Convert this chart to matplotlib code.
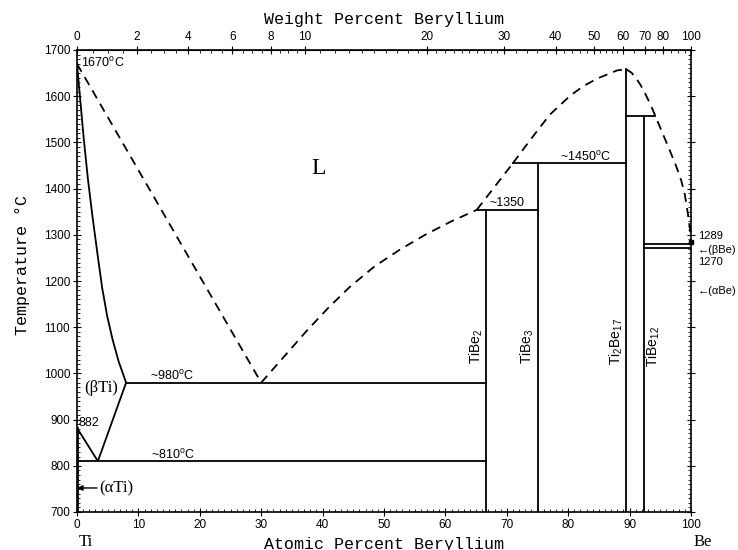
import numpy as np
import matplotlib
matplotlib.use('Agg')
import matplotlib.pyplot as plt

plt.rcParams['font.family'] = ['Liberation Sans', 'DejaVu Sans']
plt.rcParams['mathtext.fontset'] = 'custom'
plt.rcParams['mathtext.rm'] = 'Liberation Sans'
plt.rcParams['mathtext.it'] = 'Liberation Sans:italic'

# compositions in at.% Be, temperatures in deg C
liq_left_x = [0, 30]
liq_left_t = [1670, 980]
sol_ti_x = [0, 0.5, 1.1, 1.8, 2.5, 3.3, 4.1, 4.9, 5.8, 6.8, 8.0]
sol_ti_t = [1670, 1596, 1508, 1418, 1342, 1262, 1185, 1125, 1073, 1025, 980]
beta_x = [0, 3.4, 8.0]
beta_t = [882, 810, 980]
liq_mid_x = [30, 33.5, 37.4, 41, 44.5, 48.5, 52.6, 56.7, 60.8, 65.1]
liq_mid_t = [980, 1033, 1092, 1143, 1188, 1232, 1268, 1300, 1328, 1354]
liq_up_x = [65.1, 71.0]
liq_up_t = [1354, 1455]
liq_top_x = [71.0, 73.8, 77.0, 80.4, 82.5, 84.7, 88.0, 89.47]
liq_top_t = [1455, 1505, 1560, 1602, 1622, 1638, 1656, 1658]
liq_be_x = [89.47, 90.3, 91.0, 91.8, 92.6, 93.4, 94.2, 95.3, 96.5, 97.6, 98.4, 99.0, 99.5, 99.8, 100]
liq_be_t = [1658, 1651, 1640, 1624, 1604, 1582, 1557, 1522, 1484, 1448, 1418, 1387, 1345, 1315, 1289]

# invariant lines: (x_start, x_end, T)
horiz = [(0, 66.67, 810), (8.0, 66.67, 980), (65.1, 75.0, 1354),
         (71.0, 89.47, 1455), (89.47, 94.2, 1557),
         (92.31, 100, 1280), (92.31, 100, 1271)]
# compounds: (x, top T)
compounds = [(66.67, 1354), (75.0, 1455), (89.47, 1658), (92.31, 1557)]
comp_names = ['TiBe$_2$', 'TiBe$_3$', 'Ti$_2$Be$_{17}$', 'TiBe$_{12}$']
comp_label_x = [65.1, 73.4, 87.9, 93.9]
comp_label_t = [1058, 1058, 1068, 1058]

at_ticks = np.arange(0, 101, 10)
t_ticks = np.arange(700, 1701, 100)
wt_ticks = [0, 2, 4, 6, 8, 10, 20, 30, 40, 50, 60, 70, 80, 100]


def at2wt(x):
    x = np.asarray(x, dtype=float)
    a = x * 9.012
    b = (100 - x) * 47.867
    return 100 * a / (a + b)


def wt2at(w):
    w = np.asarray(w, dtype=float)
    a = w / 9.012
    b = (100 - w) / 47.867
    return 100 * a / (a + b)


fig = plt.figure(figsize=(7.38, 5.5), dpi=100)
ax = fig.add_axes([77/738, 1-512/550, 614/738, 462/550])
ax.set_xlim(0, 100)
ax.set_ylim(700, 1700)

lw = 1.3
dash = (0, (5, 3.5))
ax.plot(liq_left_x, liq_left_t, 'k', lw=lw, linestyle=dash)
ax.plot(liq_mid_x, liq_mid_t, 'k', lw=lw, linestyle=dash)
ax.plot(liq_up_x, liq_up_t, 'k', lw=lw, linestyle=dash)
ax.plot(liq_top_x, liq_top_t, 'k', lw=lw, linestyle=dash)
ax.plot(liq_be_x, liq_be_t, 'k', lw=lw, linestyle=dash)
ax.plot(sol_ti_x, sol_ti_t, 'k', lw=lw)
ax.plot(beta_x, beta_t, 'k', lw=lw)
for x0, x1, t in horiz:
    ax.plot([x0, x1], [t, t], 'k', lw=lw)
for x, t in compounds:
    ax.plot([x, x], [700, t], 'k', lw=lw)
ax.plot([0, 0], [700, 882], 'k', lw=2)
ax.plot([100], [1285], 'ks', ms=3, clip_on=False)

# labels
ax.text(39.3, 1444, 'L', fontsize=17, family='Liberation Serif', ha='center', va='center')
ax.text(0.6, 1672, r'1670$^{\rm o}$C', fontsize=9, ha='left', va='center')
ax.text(3.9, 969, '(βTi)', fontsize=12, family=['Liberation Serif', 'DejaVu Serif'], ha='center', va='center')
ax.text(0.3, 893, '882', fontsize=9, ha='left', va='center')
ax.text(15.4, 994, r'~980$^{\rm o}$C', fontsize=9, ha='center', va='center')
ax.text(15.6, 823, r'~810$^{\rm o}$C', fontsize=9, ha='center', va='center')
ax.annotate('(αTi)', xy=(0, 752), xytext=(3.7, 752), fontsize=12,
            family=['Liberation Serif', 'DejaVu Serif'], va='center', ha='left',
            arrowprops=dict(arrowstyle='-|>', color='k', lw=1, mutation_scale=8,
                            shrinkA=0, shrinkB=0))
ax.text(67.2, 1369, '~1350', fontsize=9, ha='left', va='center')
ax.text(82.8, 1468, r'~1450$^{\rm o}$C', fontsize=9, ha='center', va='center')
for name, x, t in zip(comp_names, comp_label_x, comp_label_t):
    ax.text(x, t, name, fontsize=10, rotation=90, ha='center', va='center')

ax.text(101.2, 1298, '1289', fontsize=8, ha='left', va='center', clip_on=False)
ax.text(101.1, 1267, '←(βBe)', fontsize=8, ha='left', va='center', clip_on=False)
ax.text(101.2, 1242, '1270', fontsize=8, ha='left', va='center', clip_on=False)
ax.text(101.1, 1179, '←(αBe)', fontsize=8, ha='left', va='center', clip_on=False)

mono = ['Liberation Mono', 'DejaVu Sans Mono']
ax.set_xlabel('Atomic Percent Beryllium', fontsize=12, family=mono, labelpad=4)
ax.set_ylabel('Temperature °C', fontsize=12, family=mono)
ax.yaxis.set_label_coords(-0.076, 0.535)
fig.text(86/738, 1-546/550, 'Ti', fontsize=12, family='Liberation Serif', ha='center', va='baseline')
fig.text(703/738, 1-546/550, 'Be', fontsize=12, family='Liberation Serif', ha='center', va='baseline')

ax.set_xticks(at_ticks)
ax.set_xticks(np.arange(0, 101, 1), minor=True)
ax.set_yticks(t_ticks)
ax.set_yticks(np.arange(700, 1701, 10), minor=True)
ax.tick_params(which='major', direction='inout', length=6, width=0.8, labelsize=8.5,
               pad=2, right=True)
ax.tick_params(which='minor', direction='in', length=2.5, width=0.6, right=True)

top = ax.secondary_xaxis('top', functions=(at2wt, wt2at))
top.set_xticks(wt_ticks)
wt_minor = list(np.arange(0, 10, 0.5)) + list(np.arange(10, 30, 1)) + \
    list(np.arange(30, 60, 2)) + list(np.arange(60, 100, 5))
top.set_xticks(wt_minor, minor=True)
top.tick_params(which='major', direction='inout', length=6, width=0.8, labelsize=8.5, pad=2)
top.tick_params(which='minor', direction='in', length=2.5, width=0.6)
top.set_xlabel('Weight Percent Beryllium', fontsize=12, family=mono, labelpad=5)

for s in ax.spines.values():
    s.set_linewidth(1.2)

fig.savefig('out.png', dpi=100)
